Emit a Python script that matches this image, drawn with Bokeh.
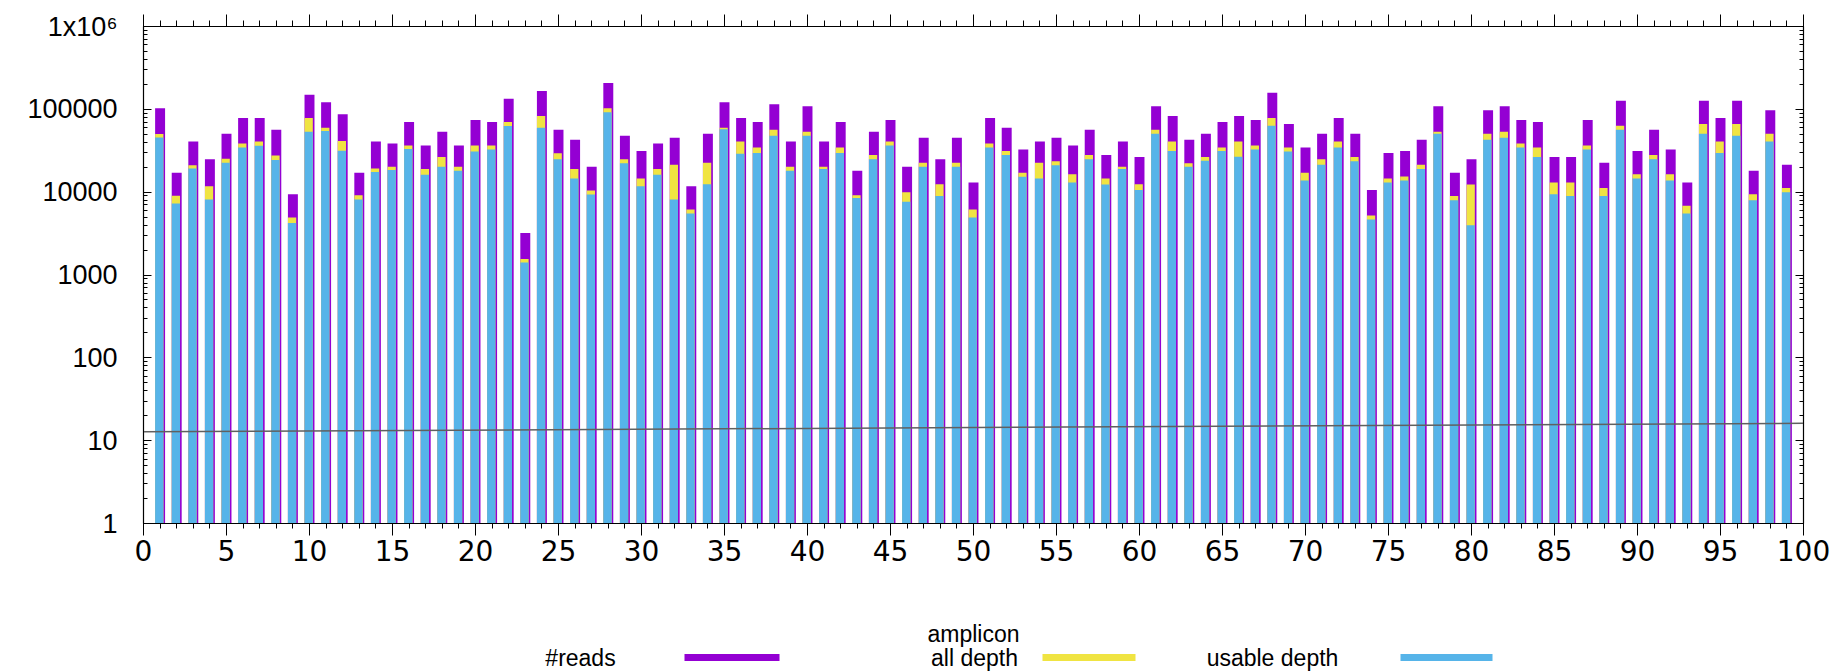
from bokeh.plotting import figure
from bokeh.models import Range1d, LinearAxis, LogAxis, FixedTicker, ColumnDataSource
from bokeh.layouts import column
from bokeh.core.properties import value
from bokeh.transform import dodge
from bokeh.embed import file_html
from bokeh.resources import INLINE

amplicon = list(range(1, 100))
reads = [103000, 17100, 41000, 25000, 50800, 78500, 78500, 56800, 9460, 150000,
         121500, 87000, 17100, 41000, 38800, 70300, 36700, 53700, 36700, 74300,
         70300, 134600, 3220, 166700, 56800, 43000, 20200, 208600, 48000, 31300,
         38800, 45400, 11800, 50800, 121500, 78500, 70300, 115000, 41000, 108700,
         41000, 70300, 18100, 53700, 74300, 20200, 45400, 25000, 45400, 13100,
         78500, 60000, 32800, 41000, 45400, 36700, 56800, 28100, 41000, 26500,
         108700, 83000, 43000, 50800, 70300, 83000, 74300, 159000, 66500, 34700,
         50800, 78500, 50800, 10600, 29700, 31300, 43000, 108700, 17100, 25000,
         97300, 108700, 74300, 70300, 26500, 26500, 74300, 22600, 127300, 31300,
         56800, 32800, 13100, 127300, 78500, 127300, 18100, 97300, 21400]
all_depth = [50300, 9030, 21200, 11800, 25300, 38800, 41000, 27800, 4940, 78500,
             60000, 41400, 9200, 19300, 20200, 36700, 19100, 26500, 20200, 36700,
             36700, 70300, 1560, 83000, 29400, 19100, 10500, 102800, 25000, 14600,
             19100, 21400, 6170, 22600, 60000, 41000, 34700, 56800, 20200, 53700,
             20200, 34700, 9200, 28100, 41000, 10000, 22600, 12500, 22600, 6170,
             38800, 31300, 17100, 22600, 23700, 16400, 28100, 14600, 20200, 12500,
             56800, 41000, 22400, 26500, 34700, 41000, 36700, 78500, 34700, 17100,
             25000, 41000, 26500, 5230, 14600, 15500, 21400, 53700, 8960, 12400,
             50800, 53700, 38800, 34700, 13100, 13100, 36700, 11200, 63400, 16400,
             28100, 16400, 6840, 66500, 41000, 66500, 9460, 50800, 11200]
usable_depth = [45800, 7290, 19300, 8150, 22600, 34700, 36300, 24400, 4250, 53700,
                54700, 31600, 8150, 17500, 18500, 33100, 16200, 20200, 18100, 31000,
                32800, 62800, 1420, 60000, 25000, 14600, 9380, 92000, 22400, 11800,
                16200, 8150, 5520, 12500, 57300, 29100, 29700, 48000, 18100, 48000,
                19100, 29700, 8530, 25000, 36700, 7640, 20200, 8960, 20200, 4940,
                34700, 28100, 15300, 14600, 21200, 13100, 25000, 12400, 19100, 10600,
                50800, 31300, 20200, 23900, 31300, 26700, 32800, 63400, 31000, 13800,
                21400, 34700, 23700, 4670, 13100, 13800, 19100, 50800, 8000, 3990,
                43000, 45400, 34700, 26500, 9460, 8960, 32800, 8960, 56800, 14600,
                25000, 13800, 5520, 50800, 29700, 48000, 8000, 41000, 10000]

trend_x = [0, 100]
trend_y = [12.8, 16.2]

x_major_ticks = list(range(0, 101, 5))
x_minor_ticks = list(range(0, 101))
y_major_ticks = [1, 10, 100, 1000, 10000, 100000, 1000000]
y_tick_labels = ["1", "10", "100", "1000", "10000", "100000", "1x10\u2076"]
y_minor_ticks = [m * 10 ** k for k in range(0, 6) for m in range(2, 10)]

x_title = "amplicon"
series_names = ["#reads", "all depth", "usable depth"]
series_colors = ["#9400D3", "#F0E442", "#56B4E9"]

src = ColumnDataSource(dict(amplicon=amplicon, reads=reads, all_depth=all_depth,
                            usable_depth=usable_depth))

p = figure(width=1839, height=580, x_range=Range1d(0, 100), y_range=Range1d(1, 1e6),
           y_axis_type="log", output_backend="svg", toolbar_location=None,
           min_border_left=143, min_border_right=36, min_border_top=26,
           min_border_bottom=57)
p.xgrid.visible = False
p.ygrid.visible = False
p.outline_line_color = "black"
p.outline_line_width = 1.2

p.vbar(x="amplicon", width=0.6, bottom=1, top="reads", source=src,
       fill_color=series_colors[0], line_color=None)
p.vbar(x=dodge("amplicon", -0.05, range=p.x_range), width=0.5, bottom=1, top="all_depth",
       source=src, fill_color=series_colors[1], line_color=None)
p.vbar(x=dodge("amplicon", -0.05, range=p.x_range), width=0.5, bottom=1, top="usable_depth",
       source=src, fill_color=series_colors[2], line_color=None)
p.line(trend_x, trend_y, line_color="#606060", line_width=1.5)

xt = FixedTicker(ticks=x_major_ticks, minor_ticks=x_minor_ticks)
yt = FixedTicker(ticks=y_major_ticks, minor_ticks=y_minor_ticks)

xa = p.xaxis[0]
xa.ticker = xt
xa.major_label_text_font = "DejaVu Sans"
xa.major_label_text_font_size = "28px"
xa.major_label_text_color = "black"
xa.major_tick_out = 12
xa.major_tick_in = 0
xa.minor_tick_out = 5
xa.minor_tick_in = 0
xa.major_label_standoff = 4
xa.axis_line_color = "black"

ya = p.yaxis[0]
ya.ticker = yt
ya.major_label_overrides = {v: t for v, t in zip(y_major_ticks, y_tick_labels)}
ya.major_label_text_font = "Liberation Sans"
ya.major_label_text_font_size = "27px"
ya.major_label_text_color = "black"
ya.major_tick_in = 8
ya.major_tick_out = 0
ya.minor_tick_in = 4
ya.minor_tick_out = 0
ya.major_label_standoff = 26
ya.axis_line_color = "black"

top_axis = LinearAxis(ticker=xt, major_label_text_font_size="1px",
                      major_label_text_color=None, major_label_standoff=0,
                      major_tick_out=12, major_tick_in=0, minor_tick_out=6,
                      minor_tick_in=0, axis_line_color="black")
p.add_layout(top_axis, "above")
right_axis = LogAxis(ticker=yt, major_label_text_font_size="1px",
                     major_label_text_color=None, major_label_standoff=0,
                     major_tick_in=8, major_tick_out=0, minor_tick_in=4,
                     minor_tick_out=0, axis_line_color="black")
p.add_layout(right_axis, "right")

# strip below the plot: x-axis title and gnuplot-style key (text, then line sample).
# Its frame is aligned with the main frame (143..1803 px), so the x range is in page pixels.
lg = figure(width=1839, height=91, x_range=Range1d(143, 1803), y_range=Range1d(0, 91),
            output_backend="svg", toolbar_location=None, min_border=0,
            min_border_left=143, min_border_right=36)
lg.axis.visible = False
lg.xgrid.visible = False
lg.ygrid.visible = False
lg.outline_line_color = None
lg.text(x=[973], y=[38], text=[x_title], text_align="center", text_baseline="middle",
        text_font=value("Liberation Sans"), text_font_size="23px", text_color="black")
text_center = [580, 974, 1272]
sample_x0 = [684, 1042, 1400]
sample_x1 = [779, 1135, 1492]
lg.text(x=text_center, y=[14, 14, 14], text=series_names, text_align="center",
        text_baseline="middle", text_font=value("Liberation Sans"),
        text_font_size="23px", text_color="black")
lg.segment(x0=sample_x0, y0=[14, 14, 14], x1=sample_x1, y1=[14, 14, 14],
           line_color=series_colors, line_width=7)

layout = column(p, lg, spacing=0)
open("out.html", "w").write(file_html(layout, INLINE))
